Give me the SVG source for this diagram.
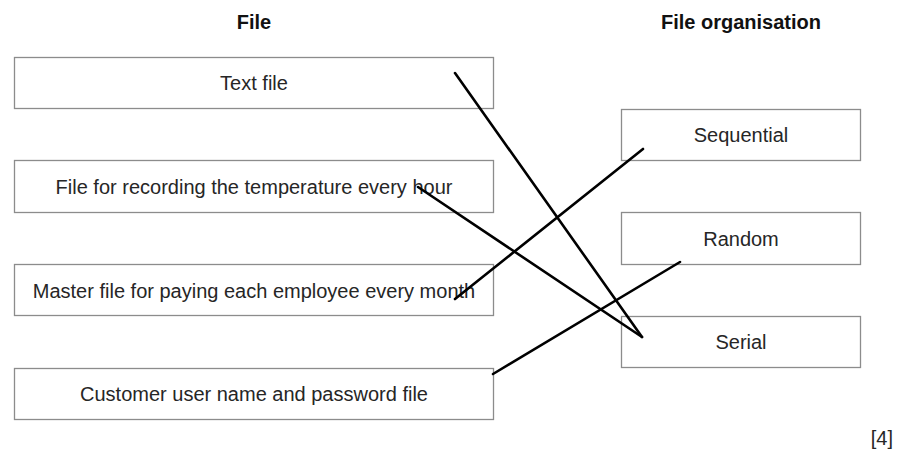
<svg xmlns="http://www.w3.org/2000/svg" width="902" height="464" viewBox="0 0 902 464">
<style>
.box{fill:#fff;stroke:#8c8c8c;stroke-width:1.3}
.t{font-family:"Liberation Sans",Arial,sans-serif;font-size:20px;fill:#262626;text-anchor:middle}
.h{font-family:"Liberation Sans",Arial,sans-serif;font-size:20px;font-weight:bold;fill:#111;text-anchor:middle}
.c{stroke:#000;stroke-width:2.6;stroke-linecap:round;fill:none}
</style>
<rect width="902" height="464" fill="#fff"/>
<text class="h" x="254" y="29">File</text>
<text class="h" x="741" y="29">File organisation</text>
<g id="left1"><rect class="box" x="14.5" y="57.5" width="479" height="51"/><text class="t" x="254" y="90">Text file</text></g>
<g id="left2"><rect class="box" x="14.5" y="160.5" width="479" height="52"/><text class="t" x="254" y="194">File for recording the temperature every hour</text></g>
<g id="left3"><rect class="box" x="14.5" y="264.5" width="479" height="51"/><text class="t" x="254" y="298">Master file for paying each employee every month</text></g>
<g id="left4"><rect class="box" x="14.5" y="368.5" width="479" height="51"/><text class="t" x="254" y="401">Customer user name and password file</text></g>
<g id="right1"><rect class="box" x="621.5" y="109.5" width="239" height="51"/><text class="t" x="741" y="142">Sequential</text></g>
<g id="right2"><rect class="box" x="621.5" y="212.5" width="239" height="52"/><text class="t" x="741" y="246">Random</text></g>
<g id="right3"><rect class="box" x="621.5" y="316.5" width="239" height="51"/><text class="t" x="741" y="349">Serial</text></g>
<g id="connectors">
<line class="c" x1="455" y1="73" x2="642" y2="337"/>
<line class="c" x1="418" y1="187" x2="642" y2="337"/>
<line class="c" x1="455" y1="299" x2="643" y2="149"/>
<line class="c" x1="493" y1="374" x2="680" y2="262"/>
</g>
<text class="t" x="893" y="445" style="text-anchor:end">[4]</text>
</svg>
